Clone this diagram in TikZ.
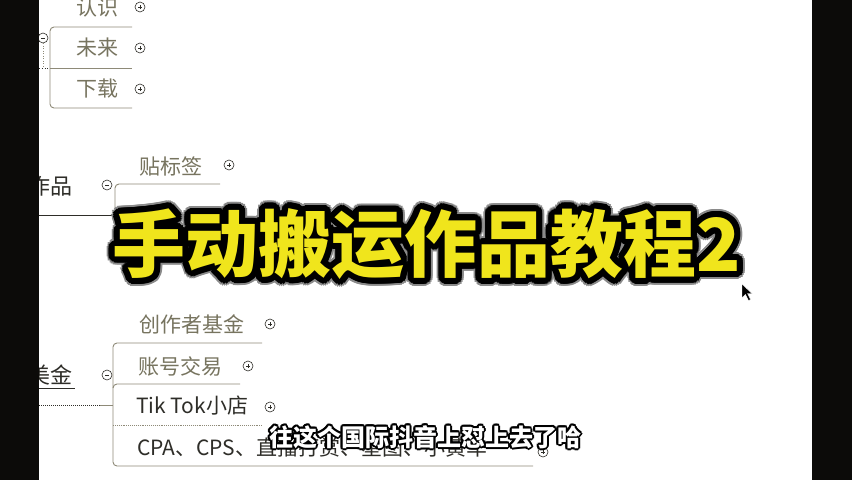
\documentclass[tikz,border=0pt]{standalone}
\usepackage{fontspec}
\usepackage{xcolor}
\usepackage{tikz}
\usetikzlibrary{calc, positioning}
\newfontfamily\cjk{Noto Sans CJK SC}

\definecolor{bandblack}{HTML}{0C0B09}
\definecolor{mapgrey}{HTML}{77745F}
\definecolor{mapline}{HTML}{8E8A78}
\definecolor{mapdark}{HTML}{2E2D28}
\definecolor{titleyellow}{HTML}{F0E51C}
\definecolor{halo}{HTML}{8A8A8A}

\tikzset{
  leaf/.style={font=\cjk\fontsize{21}{21}\selectfont, text=mapgrey, inner sep=0pt},
  parentlbl/.style={font=\cjk\fontsize{22}{22}\selectfont, text=mapdark, inner sep=0pt},
  link/.style={draw=mapline, line width=0.9pt, rounded corners=4pt},
  expandbtn/.style={circle, draw=mapdark, line width=0.6pt, minimum size=10pt, inner sep=0pt,
    path picture={
      \draw[line width=0.7pt] ([xshift=-2pt]path picture bounding box.center) -- ([xshift=2pt]path picture bounding box.center);
      \draw[line width=0.7pt] ([yshift=-2pt]path picture bounding box.center) -- ([yshift=2pt]path picture bounding box.center);}},
  foldbtn/.style={circle, draw=mapdark, line width=0.6pt, minimum size=10pt, inner sep=0pt,
    path picture={
      \draw[line width=0.7pt] ([xshift=-2pt]path picture bounding box.center) -- ([xshift=2pt]path picture bounding box.center);}},
  titletext/.style={font=\cjk\bfseries\fontsize{73}{73}\selectfont, inner sep=0pt},
  subtext/.style={font=\cjk\bfseries\fontsize{24}{24}\selectfont, inner sep=0pt}
}

\begin{document}
\begin{tikzpicture}[x=1pt, y=-1pt]
\useasboundingbox (0,0) rectangle (852,480);
\fill[white] (0,0) rectangle (852,480);

\begin{scope}
\clip (39,0) rectangle (812,480);

% first group
\node[leaf] (renshi) at (97,8) {认识};
\node[leaf] (weilai) at (97,48) {未来};
\node[leaf] (xiazai) at (97,89) {下载};
\node[expandbtn] (btnrenshi) at (140,7) {};
\node[expandbtn] (btnweilai) at (140,48) {};
\node[expandbtn] (btnxiazai) at (140,89) {};
\node[foldbtn] (foldtop) at (43,38) {};
\coordinate (topin) at (39,68);
\coordinate (topend) at (132,68);
\draw[link] (132,27) -- (50,27) -- (50,108) -- (132,108);
\draw[draw=mapdark, line width=0.8pt, dotted] (topin) -- (50,68);
\draw[link] (50,68) -- (topend);
\draw[mapline, line width=0.5pt, dotted] (foldtop.south) -- (43,68);

% second group
\node[parentlbl] (zuopin) at (50,186) {作品};
\node[foldbtn] (foldzuopin) at (107,185) {};
\node[leaf] (tiebiaoqian) at (171,166) {贴标签};
\node[expandbtn] (btntie) at (229,165) {};
\coordinate (zpin) at (39,215);
\coordinate (zpjoin) at (115,215);
\draw[draw=mapdark, line width=0.9pt] (zpin) -- (zpjoin);
\draw[link] (220,184) -- (115,184) -- (115,250);

% third group
\node[parentlbl] (meijin) at (50,375) {美金};
\draw[mapdark, line width=0.7pt] (39,388) -- (75,388);
\node[foldbtn] (foldjin) at (107,375) {};
\node[leaf] (jijin) at (192,324) {创作者基金};
\node[leaf] (zhanghao) at (180,366) {账号交易};
\node[leaf, text=mapdark] (xiaodian) at (192,406) {Tik Tok小店};
\node[leaf, text=mapdark, anchor=west] (cpa) at (137,447) {CPA、CPS、直播打赏、星图、小黄车};
\node[expandbtn] (btnjijin) at (270,324) {};
\node[expandbtn] (btnzhanghao) at (248,366) {};
\node[expandbtn] (btnxiaodian) at (270,407) {};
\node[expandbtn] (btncpa) at (543,452) {};
\coordinate (jinin) at (39,405);
\coordinate (jinjoin) at (113,405);
\draw[draw=mapdark, line width=1pt, densely dotted] (jinin) -- (100,405);
\draw[link] (100,405) -- (jinjoin);
\draw[link] (262,343) -- (113,343) -- (113,466) -- (533,466);
\draw[link] (113,388) -- (113,384) -- (240,384);
\draw[draw=mapline, line width=0.9pt, densely dotted] (113,425) -- (262,425);
\end{scope}

% black bands
\fill[bandblack] (0,0) rectangle (39,480);
\fill[bandblack] (812,0) rectangle (852,480);

% title
\coordinate (titlepos) at (427,244);
\foreach \ang in {0,15,...,345}
  \node[titletext, text=halo] (halo\ang) at ($(titlepos)+(\ang:8pt)$) {手动搬运作品教程2};
\foreach \ang in {0,15,...,345}
  \node[titletext, text=black] (edge\ang) at ($(titlepos)+(\ang:6pt)$) {手动搬运作品教程2};
\node[titletext, text=titleyellow] (title) at (titlepos) {手动搬运作品教程2};

% subtitle
\coordinate (subpos) at (425,437);
\foreach \ang in {0,30,...,330}
  \node[subtext, text=black] (subedge\ang) at ($(subpos)+(\ang:2pt)$) {往这个国际抖音上怼上去了哈};
\node[subtext, text=white] (subtitle) at (subpos) {往这个国际抖音上怼上去了哈};

% cursor
\fill[black, draw=white, line width=0.4pt] (742,284) -- (742,298) -- (745.5,294.5) -- (748.5,300.5) -- (750.5,299.5) -- (747.5,293.5) -- (752,293.5) -- cycle;
\end{tikzpicture}
\end{document}
